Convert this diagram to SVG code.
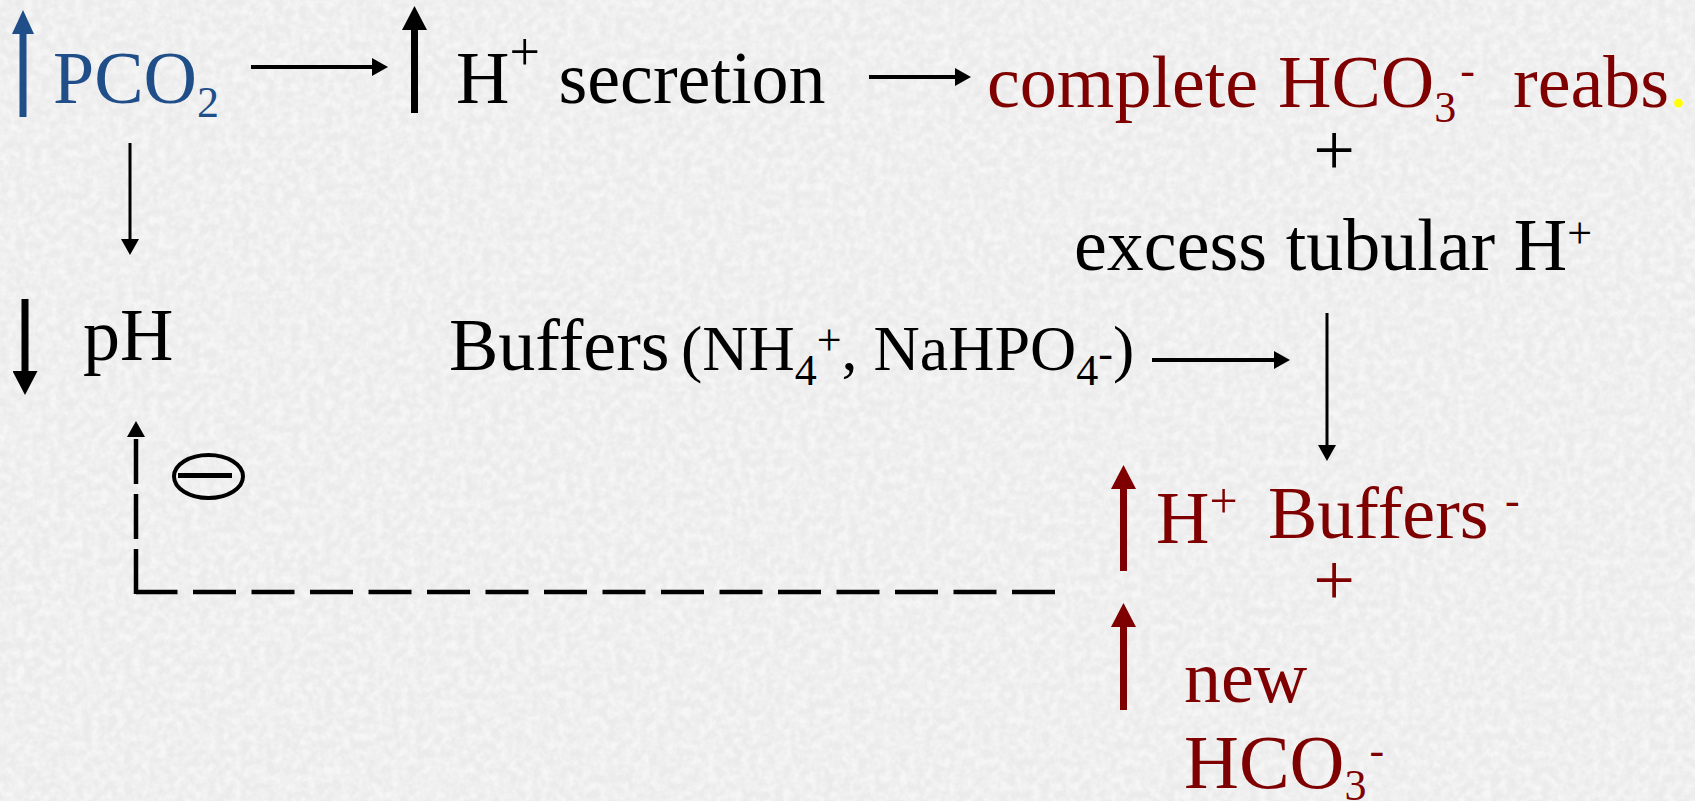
<svg xmlns="http://www.w3.org/2000/svg" width="1695" height="801" viewBox="0 0 1695 801">
<style>
.t{font-family:"Liberation Serif","Times New Roman",serif;font-size:74px;fill:#000}
.blue{fill:#1f4e89}
.red{fill:#7f0000}
.s{font-size:44px}
.m{font-size:64px}
.ln{stroke:#000;stroke-width:4;fill:none}
.thin{stroke:#000;stroke-width:3;fill:none}
.thk{stroke-width:7;fill:none}
.dash{stroke:#000;stroke-width:4.5;fill:none}
</style>
<defs>
<filter id="tex" x="0" y="0" width="100%" height="100%">
<feTurbulence type="fractalNoise" baseFrequency="0.12" numOctaves="3" seed="4"/>
<feColorMatrix type="matrix" values="0 0 0 0 1  0 0 0 0 1  0 0 0 0 1  2.2 0 0 0 -0.7"/>
</filter>
<marker id="ah" markerUnits="userSpaceOnUse" markerWidth="16" markerHeight="18" viewBox="0 0 16 18" refX="3" refY="9" orient="auto"><path d="M0,0 L16,9 L0,18 z" fill="#000"/></marker>
<marker id="ahK" markerUnits="userSpaceOnUse" markerWidth="24" markerHeight="25" viewBox="0 0 24 25" refX="2" refY="12.5" orient="auto"><path d="M0,0 L24,12.5 L0,25 z" fill="#000"/></marker>
<marker id="ahB" markerUnits="userSpaceOnUse" markerWidth="24" markerHeight="22" viewBox="0 0 24 22" refX="2" refY="11" orient="auto"><path d="M0,0 L24,11 L0,22 z" fill="#1f4e89"/></marker>
<marker id="ahR" markerUnits="userSpaceOnUse" markerWidth="24" markerHeight="25" viewBox="0 0 24 25" refX="2" refY="12.5" orient="auto"><path d="M0,0 L24,12.5 L0,25 z" fill="#7f0000"/></marker>
</defs>
<rect x="0" y="0" width="1695" height="801" fill="#ebebeb"/>
<rect x="0" y="0" width="1695" height="801" filter="url(#tex)" opacity="0.55"/>

<g id="connectors">
<line class="ln" x1="251" y1="67" x2="375" y2="67" marker-end="url(#ah)"/>
<line class="ln" x1="869" y1="77" x2="958" y2="77" marker-end="url(#ah)"/>
<line class="thin" x1="130" y1="143" x2="130" y2="242" marker-end="url(#ah)"/>
<line class="ln" x1="1152" y1="360" x2="1277" y2="360" marker-end="url(#ah)"/>
<line class="thin" x1="1327" y1="313" x2="1327" y2="448" marker-end="url(#ah)"/>
<path class="dash" d="M1055,592 H136" stroke-dasharray="43 15.5"/>
<path class="dash" d="M136,594 V434" stroke-dasharray="45 10" marker-end="url(#ah)"/>
</g>

<g id="pco2">
<line class="thk" stroke="#1f4e89" stroke-width="5" x1="23" y1="117" x2="23" y2="32" marker-end="url(#ahB)"/>
<text class="t blue" x="53" y="103">PCO<tspan class="s" dy="14">2</tspan></text>
</g>

<g id="h-secretion">
<line class="thk" stroke="#000" x1="414.5" y1="113" x2="414.5" y2="28" marker-end="url(#ahK)"/>
<text class="t" x="456" y="103">H<tspan style="font-size:54px" dy="-33">+</tspan><tspan dy="33"> secretion</tspan></text>
</g>

<g id="complete-reabs">
<text class="t red" x="987" y="107">complete <tspan x="1278">HCO</tspan><tspan class="s" dy="15">3</tspan><tspan class="s" dx="4" dy="-37">-</tspan><tspan x="1513" dy="22">reabs</tspan><tspan fill="#ffff00">.</tspan></text>
</g>

<g id="plus-top">
<text class="t" x="1334" y="175" text-anchor="middle">+</text>
</g>

<g id="excess-h">
<text class="t" x="1074" y="270">excess tubular H<tspan class="s" dy="-22">+</tspan></text>
</g>

<g id="ph">
<line class="thk" stroke="#000" x1="25" y1="299" x2="25" y2="373" marker-end="url(#ahK)"/>
<text class="t" x="83" y="360">pH</text>
</g>

<g id="inhibit">
<ellipse cx="208.5" cy="476.5" rx="34.5" ry="21.5" fill="none" stroke="#000" stroke-width="4"/>
<line x1="178" y1="475.5" x2="232" y2="475.5" stroke="#000" stroke-width="5"/>
</g>

<g id="buffers-input">
<text class="t" x="449" y="370">Buffers <tspan class="m" x="681">(NH</tspan><tspan class="s" dy="15">4</tspan><tspan class="s" dy="-30">+</tspan><tspan class="m" dy="15">, NaHPO</tspan><tspan class="s" dy="15">4</tspan><tspan class="s" dy="-17">-</tspan><tspan class="m" dy="2">)</tspan></text>
</g>

<g id="h-buffers">
<line class="thk" stroke="#7f0000" x1="1123.5" y1="571" x2="1123.5" y2="487" marker-end="url(#ahR)"/>
<text class="t red" x="1156" y="543">H<tspan style="font-size:50px" dy="-25">+</tspan></text>
<text class="t red" x="1268" y="538">Buffers<tspan class="s" x="1505" dy="-23">-</tspan></text>
</g>

<g id="plus-bottom">
<text class="t red" x="1334" y="605" text-anchor="middle">+</text>
</g>

<g id="new-hco3">
<line class="thk" stroke="#7f0000" x1="1123.5" y1="710" x2="1123.5" y2="625" marker-end="url(#ahR)"/>
<text class="t red" x="1184" y="702">new</text>
<text class="t red" x="1184" y="788" style="font-size:76px">HCO<tspan class="s" dy="12">3</tspan><tspan class="s" dx="3" dy="-35">-</tspan></text>
</g>
</svg>
